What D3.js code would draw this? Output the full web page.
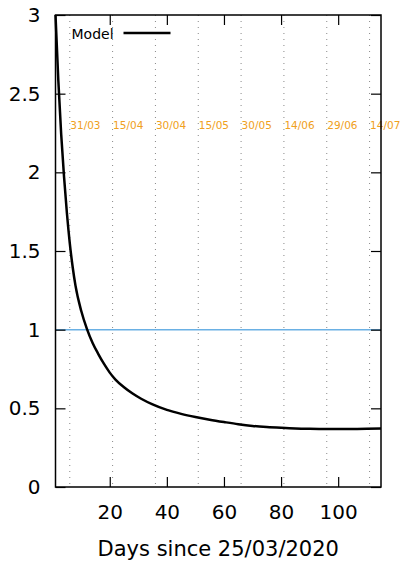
<!DOCTYPE html>
<html>
<head>
<meta charset="utf-8">
<script src="https://cdn.jsdelivr.net/npm/d3@7"></script>
<style>
  body { margin: 0; background: #fff; }
  text { font-family: "DejaVu Sans", sans-serif; }
</style>
</head>
<body>
<div id="vis"></div>
<script>
// Model curve: days since 25/03/2020 and the estimated value
const days = [1, 2, 3, 4, 5, 6, 7, 8, 10, 12, 14, 16, 18, 20, 22, 25, 28, 31, 35, 40, 45, 50,
    55, 60, 65, 70, 75, 80, 85, 90, 95, 100, 105, 110, 115]
const model = [3.0, 2.58, 2.24, 1.97, 1.74, 1.55, 1.4, 1.28, 1.12, 1.005, 0.915, 0.845, 0.782,
    0.727, 0.683, 0.634, 0.594, 0.561, 0.525, 0.49, 0.465, 0.445, 0.428, 0.413, 0.399, 0.388,
    0.381, 0.376, 0.372, 0.37, 0.369, 0.368, 0.369, 0.37, 0.372]

// Date markers (vertical dotted lines)
const markerDays = [6, 21, 36, 51, 66, 81, 96, 111]
const markerLabels = ["31/03", "15/04", "30/04", "15/05", "30/05", "14/06", "29/06", "14/07"]

const xTicks = [20, 40, 60, 80, 100]
const yTicks = [0, 0.5, 1, 1.5, 2, 2.5, 3]
const threshold = 1

const margin = {left: 55.5, top: 15, right: 22, bottom: 74}
const width = 403 - margin.left - margin.right
const height = 561 - margin.top - margin.bottom

const x = d3.scaleLinear().domain([1, 115]).range([0, width])
const y = d3.scaleLinear().domain([0, 3]).range([height, 0])

const svg = d3.select("#vis").append("svg")
    .attr("width", 403)
    .attr("height", 561)

const g = svg.append("g")
    .attr("transform", `translate(${margin.left},${margin.top})`)

// dotted date lines
g.selectAll(".marker")
    .data(markerDays)
    .enter()
    .append("line")
    .attr("x1", d => x(d)).attr("x2", d => x(d))
    .attr("y1", 0).attr("y2", height)
    .style("stroke", "#888")
    .style("stroke-width", 1)
    .style("stroke-dasharray", "1,5")

g.selectAll(".mlabel")
    .data(markerLabels)
    .enter()
    .append("text")
    .attr("x", (d, i) => x(markerDays[i]) + 0.5)
    .attr("y", 114)
    .style("font-size", "10.5px")
    .style("fill", "#f0a020")
    .text(d => d)

// threshold line
g.append("line")
    .attr("x1", 0).attr("x2", width)
    .attr("y1", y(threshold)).attr("y2", y(threshold))
    .style("stroke", "#6ab0e4")
    .style("stroke-width", 1.5)

// axes with inward ticks, mirrored on top and right
const fmt = d => d3.format("")(d)
g.append("g").attr("transform", `translate(0,${height})`)
    .call(d3.axisBottom(x).tickValues(xTicks).tickSize(-10).tickPadding(18).tickFormat(fmt))
g.append("g")
    .call(d3.axisTop(x).tickValues(xTicks).tickSize(-10).tickFormat(""))
g.append("g")
    .call(d3.axisLeft(y).tickValues(yTicks).tickSize(-10).tickPadding(15).tickFormat(fmt))
g.append("g").attr("transform", `translate(${width},0)`)
    .call(d3.axisRight(y).tickValues(yTicks).tickSize(-10).tickFormat(""))

g.selectAll(".domain").remove()
g.selectAll(".tick line").style("stroke", "#000").style("stroke-width", 1.2)
g.selectAll(".tick text").style("font-size", "20px").style("fill", "#000")

g.append("rect")
    .attr("width", width).attr("height", height)
    .style("fill", "none")
    .style("stroke", "#000")
    .style("stroke-width", 1.5)

// model curve
const line = d3.line()
    .x((d, i) => x(days[i]))
    .y(d => y(d))
    .curve(d3.curveMonotoneX)

g.append("path")
    .datum(model)
    .attr("d", line)
    .style("fill", "none")
    .style("stroke", "#000")
    .style("stroke-width", 2.5)

// legend
g.append("text")
    .attr("x", 16).attr("y", 24)
    .style("font-size", "14px")
    .text("Model")
g.append("line")
    .attr("x1", 68).attr("x2", 115)
    .attr("y1", 18).attr("y2", 18)
    .style("stroke", "#000")
    .style("stroke-width", 2.5)

// x axis title
svg.append("text")
    .attr("x", margin.left + width / 2)
    .attr("y", 556)
    .attr("text-anchor", "middle")
    .style("font-size", "21px")
    .text("Days since 25/03/2020")
</script>
</body>
</html>
